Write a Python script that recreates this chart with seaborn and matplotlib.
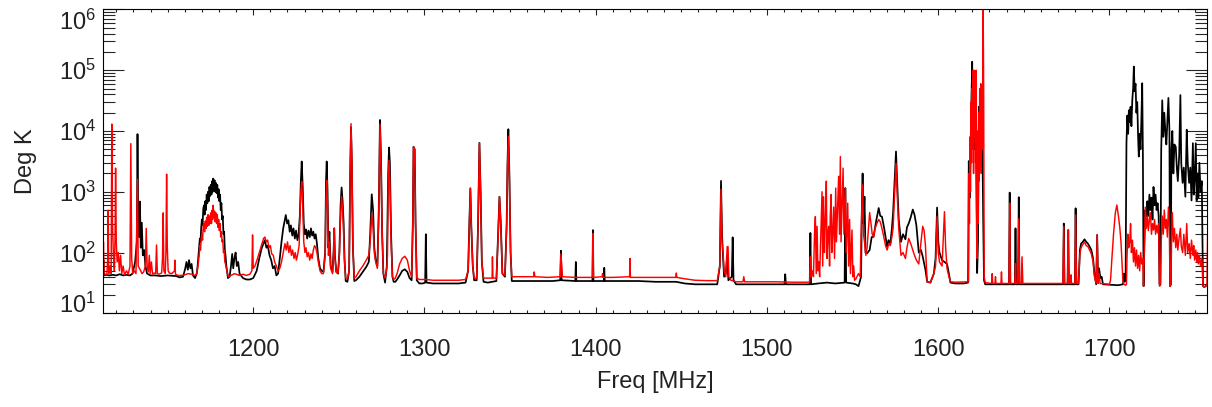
import pandas as pd
import matplotlib
matplotlib.use('Agg')
import matplotlib.pyplot as plt
import matplotlib.ticker as mticker
import seaborn as sns

# ---- black spectrum (MHz / K) ----
black_f_a = [
    1112.2, 1112.5, 1112.9, 1114.0, 1116.0, 1118.0, 1120.0, 1122.0, 1124.0, 1126.0,
    1128.0, 1129.5, 1131.0, 1132.0, 1132.4, 1132.8, 1133.3, 1133.8, 1134.3, 1134.9,
    1135.5, 1136.3, 1137.0, 1138.0, 1140.0, 1143.0, 1146.0, 1150.0, 1155.0, 1157.0,
    1159.0, 1160.3, 1161.0, 1161.8, 1162.5, 1163.3, 1164.0, 1164.8, 1166.0, 1167.0,
    1167.5, 1168.0, 1168.4, 1168.8, 1169.2, 1169.6, 1170.0, 1170.4, 1170.8, 1171.2,
    1171.6, 1172.0, 1172.4, 1172.8, 1173.2, 1173.6, 1174.0, 1174.4, 1174.8, 1175.2,
    1175.6, 1176.0, 1176.3, 1176.6, 1177.0, 1177.4, 1177.8, 1178.2, 1178.6, 1179.0,
    1179.4, 1179.8, 1180.2, 1180.6, 1181.0, 1181.4, 1181.8, 1182.2, 1182.6, 1183.0,
    1183.4, 1183.8, 1184.3, 1185.2, 1186.2, 1187.0, 1187.7, 1188.3, 1189.0, 1189.7,
    1190.4, 1191.2, 1192.0, 1194.0, 1196.0, 1198.0]
black_t_a = [
    45, 75, 42, 43, 42, 43, 42, 44, 42, 43,
    42, 45, 70, 150, 8900, 400, 180, 690, 120, 310,
    90, 110, 60, 45, 42, 42, 41, 42, 41, 39,
    40, 55, 70, 52, 75, 55, 65, 42, 38, 45,
    60, 90, 120, 170, 150, 260, 350, 280, 520, 600,
    420, 700, 500, 900, 650, 1000, 700, 1200, 850, 1300,
    900, 1500, 1000, 1650, 1100, 1550, 1000, 1400, 950, 1300,
    800, 1100, 700, 900, 500, 650, 350, 400, 200, 220,
    110, 90, 60, 38, 40, 60, 95, 55, 80, 100,
    60, 70, 45, 38, 36, 36]

black_f_b = [
    1200.0, 1202.0, 1203.5, 1205.0, 1206.0, 1206.8, 1207.7, 1208.5, 1209.5, 1210.5,
    1211.5, 1212.5, 1213.5, 1214.5, 1215.5, 1216.5, 1217.5, 1218.3, 1219.0, 1219.8,
    1220.5, 1221.3, 1222.0, 1222.8, 1223.5, 1224.3, 1225.0, 1225.8, 1226.5, 1227.2,
    1227.8, 1228.3, 1228.9, 1229.5, 1230.2, 1230.8, 1231.5, 1232.2, 1233.0, 1233.7,
    1234.4, 1235.1, 1235.8, 1236.5, 1237.2, 1238.0, 1239.0, 1240.0, 1241.0, 1242.0,
    1242.5, 1242.9, 1243.4, 1243.9, 1244.5, 1245.2, 1246.3, 1247.0, 1247.3, 1247.7,
    1248.5, 1249.5, 1250.3, 1251.0, 1251.6, 1252.2, 1252.8, 1253.3, 1254.0, 1255.0,
    1256.0, 1256.6, 1257.1, 1257.6, 1258.2, 1259.0, 1260.0, 1262.0, 1264.0, 1266.0,
    1267.5, 1268.3, 1269.2, 1270.0, 1270.7, 1271.5, 1272.5, 1273.3, 1274.0, 1274.6,
    1275.3, 1276.0, 1277.0, 1278.0, 1278.8, 1279.3, 1279.8, 1280.5, 1281.3, 1282.0,
    1283.0, 1284.0, 1285.5, 1287.0, 1288.5, 1290.0, 1291.3, 1292.5, 1293.2, 1293.6,
    1294.3, 1294.8, 1295.5, 1297.0, 1299.0]
black_t_b = [
    38, 50, 80, 120, 140, 160, 120, 130, 90, 75,
    55, 60, 42, 45, 80, 150, 250, 330, 415, 300,
    340, 220, 280, 190, 250, 170, 230, 160, 200, 400,
    1500, 3150, 1200, 300, 200, 240, 170, 230, 180, 250,
    190, 220, 170, 200, 140, 80, 55, 50, 48, 100,
    1500, 3150, 1000, 120, 220, 60, 48, 120, 250, 90,
    48, 45, 100, 600, 1180, 700, 300, 80, 34, 33,
    50, 2000, 11500, 3000, 120, 34, 35, 40, 48, 58,
    70, 200, 910, 500, 120, 75, 60, 500, 15200, 4000,
    200, 45, 32, 60, 2000, 5350, 3000, 200, 40, 33,
    33, 36, 42, 50, 53, 48, 38, 35, 300, 5500,
    5000, 300, 35, 31, 31]

black_f_c = [
    1300.4, 1300.8, 1301.2, 1305.0, 1310.0, 1315.0, 1320.0, 1324.0, 1325.5, 1326.2,
    1326.8, 1327.4, 1328.2, 1329.0, 1330.5, 1331.3, 1332.1, 1332.8, 1333.5, 1334.5,
    1337.0, 1339.7, 1342.0, 1343.0, 1343.8, 1344.6, 1345.5, 1347.0, 1348.0, 1348.5,
    1349.0, 1349.6, 1350.3, 1351.0, 1355.0, 1365.0, 1375.0, 1379.3, 1379.7, 1380.1,
    1388.1, 1388.4, 1388.7, 1398.1, 1398.4, 1398.7, 1404.8, 1405.0, 1405.3, 1415.0,
    1425.0, 1435.0, 1447.0, 1452.0, 1458.0, 1465.0, 1471.0, 1472.5, 1473.2, 1473.8,
    1474.4, 1475.0, 1476.0, 1476.8, 1477.5, 1479.5, 1480.0, 1480.5, 1482.0, 1490.0,
    1500.0, 1510.3, 1510.7, 1511.1, 1520.0, 1525.0, 1525.4, 1525.8, 1530.0, 1535.0,
    1540.0, 1545.4, 1545.8, 1546.3, 1550.0, 1552.0, 1553.5, 1555.0, 1555.5, 1555.9,
    1556.4, 1557.0, 1557.6, 1558.5, 1560.0, 1561.2, 1562.3, 1563.8, 1565.3, 1566.2,
    1567.2, 1568.5, 1570.2, 1571.0, 1572.1, 1573.0, 1573.7, 1574.6, 1575.4, 1576.2,
    1577.0, 1578.3, 1579.5, 1580.9, 1581.8, 1582.8, 1584.0, 1585.2, 1586.2, 1587.3,
    1588.7, 1590.0, 1591.0, 1592.6, 1593.6, 1595.5, 1597.5, 1598.5, 1599.4, 1600.1,
    1600.8, 1602.3, 1603.7, 1605.2, 1606.3, 1607.2, 1610.0]
black_t_c = [
    32, 200, 32, 31, 31, 31, 31, 32, 50, 300,
    1140, 250, 60, 35, 35, 300, 6400, 1000, 70, 33,
    32, 33, 34, 200, 830, 300, 45, 40, 300, 3000,
    10700, 2000, 100, 34, 34, 34, 34, 35, 107, 35,
    34, 70, 34, 34, 234, 34, 34, 56, 34, 34,
    34, 33, 33, 31, 30, 30, 30, 60, 1510, 200,
    80, 40, 45, 90, 35, 40, 178, 35, 30, 30,
    30, 30, 44, 30, 30, 30, 210, 30, 31, 32,
    31, 32, 1150, 32, 31, 30, 28, 40, 700, 2000,
    300, 830, 100, 97, 110, 180, 182, 330, 540, 400,
    390, 250, 125, 160, 140, 250, 450, 1500, 4600, 1200,
    350, 150, 200, 165, 260, 300, 380, 510, 420, 280,
    100, 110, 86, 52, 33, 32, 45, 80, 550, 150,
    100, 75, 70, 65, 45, 32, 31]

black_f_d = [
    1615.0, 1617.5, 1617.9, 1618.5, 1619.3, 1619.9, 1620.4, 1620.9, 1621.4, 1621.9,
    1622.4, 1622.8, 1623.3, 1623.8, 1624.3, 1624.8, 1625.3, 1625.8, 1626.3, 1626.8,
    1627.5, 1635.0, 1641.4, 1641.8, 1642.2, 1644.8, 1645.2, 1645.6, 1646.7, 1647.1,
    1647.5, 1660.0, 1673.0, 1673.4, 1673.8, 1675.6, 1676.0, 1676.4, 1679.9, 1680.3,
    1680.8, 1682.0, 1682.8, 1683.5, 1684.5, 1685.5, 1686.5, 1687.5, 1688.5, 1689.5,
    1690.5, 1691.3, 1692.3, 1692.9, 1693.4, 1694.0, 1694.8, 1695.5, 1696.3, 1705.0,
    1708.0, 1708.5, 1709.0, 1709.5, 1710.0, 1710.5, 1711.0, 1711.4, 1711.9, 1712.4,
    1712.9, 1713.4, 1713.9, 1714.3, 1714.8, 1715.3, 1715.8, 1716.3, 1716.8, 1717.2,
    1717.7, 1718.2, 1718.7, 1719.2, 1719.6, 1720.0, 1720.5, 1721.0, 1721.6, 1722.2,
    1722.8, 1723.4, 1724.0, 1724.6, 1725.2, 1725.8, 1726.4, 1727.0, 1727.6, 1728.2,
    1728.8, 1729.3, 1729.8, 1730.3, 1730.9, 1731.5, 1732.1, 1732.7, 1733.3, 1733.9,
    1734.5, 1735.1, 1735.4, 1736.0, 1736.2, 1736.8, 1737.4, 1738.0, 1738.8, 1739.4,
    1740.0, 1740.8, 1741.5, 1742.0, 1742.8, 1743.5, 1744.4, 1745.2, 1745.8, 1746.6,
    1747.3, 1748.0, 1748.8, 1749.3, 1749.8, 1750.5, 1751.0, 1751.5, 1752.0, 1752.6,
    1753.3, 1754.0, 1754.7, 1755.5, 1756.3, 1757.2]
black_t_d = [
    31, 32, 3200, 800, 20000, 138000, 10000, 90000, 5000, 40000,
    800, 46, 150, 25000, 8000, 29000, 3000, 9000, 400, 35,
    30, 30, 30, 970, 30, 30, 250, 30, 30, 815,
    30, 30, 30, 300, 30, 30, 235, 30, 30, 535,
    30, 30, 110, 140, 150, 165, 150, 140, 125, 110,
    80, 45, 30, 195, 35, 55, 38, 40, 30, 29,
    30, 45, 33, 40, 6300, 18000, 9000, 22000, 14000, 25000,
    12000, 32000, 50000, 115000, 45000, 60000, 20000, 30000, 8000, 3800,
    9000, 5000, 15000, 61000, 4000, 28, 150, 500, 300, 700,
    400, 900, 500, 800, 350, 1200, 600, 900, 500, 650,
    400, 30, 30, 4900, 32000, 8000, 20000, 10000, 6000, 15000,
    35000, 10000, 28, 30, 4900, 10000, 2000, 6000, 5500, 2500,
    1500, 4000, 39000, 3000, 1400, 2500, 830, 10500, 3000, 1400,
    2500, 720, 6300, 900, 1500, 6300, 720, 2000, 800, 3000,
    1000, 1500, 28, 27, 28, 30]

# ---- red spectrum ----
red_f_a = [
    1112.2, 1112.5, 1112.9, 1114.5, 1115.0, 1115.3, 1115.6, 1116.4, 1117.0, 1117.4,
    1117.8, 1118.3, 1118.9, 1119.3, 1119.6, 1120.0, 1120.5, 1121.2, 1121.8, 1122.5,
    1123.2, 1124.0, 1124.8, 1126.0, 1127.0, 1128.0, 1128.5, 1129.0, 1129.6, 1130.5,
    1131.5, 1132.4, 1132.8, 1133.5, 1134.3, 1135.0, 1136.0, 1137.0, 1137.5, 1138.0,
    1138.7, 1139.3, 1139.8, 1140.5, 1141.2, 1142.0, 1143.0, 1143.5, 1144.0, 1145.0,
    1146.5, 1147.0, 1147.4, 1147.8, 1148.6, 1149.0, 1149.4, 1149.8, 1150.3, 1151.0,
    1152.5, 1154.0, 1154.2, 1154.6, 1156.0, 1158.0, 1160.0, 1162.0, 1164.0, 1166.0,
    1167.0, 1167.5, 1168.0, 1168.4, 1168.8, 1169.2, 1169.6, 1170.0, 1170.4, 1170.8,
    1171.2, 1171.6, 1172.0, 1172.4, 1172.8, 1173.2, 1173.6, 1174.0, 1174.4, 1174.8,
    1175.2, 1175.6, 1176.0, 1176.3, 1176.6, 1177.0, 1177.4, 1177.8, 1178.2, 1178.6,
    1179.0, 1179.4, 1179.8, 1180.2, 1180.6, 1181.0, 1181.4, 1181.8, 1182.2, 1182.6,
    1183.0, 1183.4, 1183.8, 1184.6, 1185.5, 1187.0, 1189.0, 1190.0, 1192.0, 1194.0,
    1196.0, 1198.0]
red_t_a = [
    45, 150, 45, 43, 80, 500, 45, 60, 45, 13000,
    300, 90, 50, 200, 2450, 150, 70, 100, 50, 90,
    45, 60, 43, 50, 44, 60, 6200, 80, 45, 50,
    45, 1600, 60, 55, 50, 45, 48, 60, 250, 60,
    48, 90, 45, 70, 44, 46, 45, 133, 45, 44,
    46, 80, 450, 50, 45, 100, 1950, 120, 50, 46,
    45, 50, 75, 44, 42, 42, 43, 45, 44, 42,
    45, 55, 70, 90, 130, 110, 170, 200, 160, 280,
    300, 220, 330, 250, 380, 270, 420, 280, 400, 300,
    450, 300, 500, 350, 600, 380, 480, 320, 450, 300,
    420, 260, 350, 230, 300, 180, 220, 150, 160, 100,
    110, 70, 65, 50, 40, 42, 45, 44, 42, 44,
    42, 44]

red_f_b = [
    1199.2, 1199.6, 1200.0, 1201.0, 1202.5, 1204.0, 1205.2, 1206.0, 1206.8, 1207.6,
    1208.4, 1209.2, 1210.0, 1210.8, 1211.7, 1212.5, 1213.5, 1214.5, 1215.5, 1216.5,
    1217.5, 1218.5, 1219.3, 1220.0, 1220.8, 1221.5, 1222.3, 1223.0, 1223.8, 1224.5,
    1225.2, 1226.0, 1226.8, 1227.3, 1227.8, 1228.3, 1228.9, 1229.5, 1230.2, 1230.8,
    1231.5, 1232.2, 1233.0, 1233.7, 1234.4, 1235.1, 1235.8, 1236.5, 1237.2, 1238.0,
    1239.0, 1240.0, 1241.0, 1242.0, 1242.5, 1242.9, 1243.4, 1243.9, 1244.5, 1245.2,
    1246.3, 1247.0, 1247.3, 1247.7, 1248.5, 1249.5, 1250.3, 1251.0, 1251.6, 1252.2,
    1252.8, 1253.3, 1254.0, 1255.0, 1256.0, 1256.6, 1257.1, 1257.6, 1258.2, 1259.0,
    1260.0, 1262.0, 1264.0, 1266.0, 1267.5, 1268.3, 1269.2, 1270.0, 1270.7, 1271.5,
    1272.5, 1273.3, 1274.0, 1274.6, 1275.3, 1276.0, 1277.0, 1278.0, 1278.4, 1278.8,
    1279.3, 1279.8, 1280.5, 1281.3, 1282.0, 1283.0, 1284.0, 1285.5, 1287.0, 1288.5,
    1290.0, 1291.3, 1292.5, 1293.2, 1293.6, 1294.3, 1294.8, 1295.5, 1297.0, 1299.0]
red_t_b = [
    50, 195, 55, 60, 80, 110, 140, 170, 180, 150,
    160, 120, 130, 95, 90, 70, 60, 50, 55, 70,
    100, 140, 110, 150, 100, 130, 90, 110, 80, 100,
    75, 95, 130, 400, 1000, 1480, 600, 150, 100, 120,
    85, 100, 75, 95, 80, 110, 130, 120, 100, 70,
    50, 45, 45, 90, 800, 1550, 600, 90, 150, 55,
    45, 100, 250, 80, 48, 46, 90, 400, 830, 500,
    200, 70, 38, 37, 50, 2000, 13200, 3500, 120, 38,
    40, 50, 60, 75, 90, 150, 445, 250, 100, 70,
    55, 400, 13000, 3000, 200, 45, 38, 55, 90, 1200,
    3300, 1500, 150, 40, 36, 38, 45, 65, 80, 87,
    75, 50, 40, 300, 5500, 5000, 300, 38, 36, 36]

red_f_c = [
    1301.0, 1305.0, 1320.0, 1324.0, 1325.5, 1326.2, 1326.8, 1327.4, 1328.2, 1329.0,
    1330.5, 1331.3, 1332.1, 1332.8, 1333.5, 1334.5, 1337.0, 1339.5, 1339.7, 1340.0,
    1342.0, 1343.0, 1343.8, 1344.6, 1345.5, 1347.0, 1348.0, 1348.5, 1349.0, 1349.6,
    1350.3, 1351.0, 1356.0, 1363.8, 1364.1, 1364.5, 1372.0, 1379.3, 1379.7, 1380.2,
    1380.6, 1388.0, 1398.1, 1398.4, 1398.7, 1403.8, 1404.0, 1404.3, 1410.0, 1419.8,
    1420.0, 1420.3, 1430.0, 1440.0, 1446.8, 1447.1, 1447.4, 1452.0, 1458.0, 1465.0,
    1471.0, 1472.5, 1473.2, 1473.8, 1474.4, 1475.0, 1476.0, 1476.8, 1477.3, 1477.8,
    1479.0, 1482.0, 1486.0, 1486.5, 1487.0, 1495.0, 1505.0, 1515.0, 1524.5, 1525.0,
    1525.4, 1525.9, 1526.5, 1527.2, 1527.8, 1528.3, 1528.8, 1529.3, 1529.8, 1530.3,
    1530.8, 1531.4, 1532.2, 1532.6, 1533.1, 1533.6, 1534.1, 1534.7, 1535.1, 1535.6,
    1536.1, 1536.6, 1537.0, 1537.5, 1537.9, 1538.4, 1539.0, 1539.5, 1540.2, 1540.6,
    1541.1, 1541.9, 1542.4, 1542.9, 1543.3, 1543.8, 1544.5, 1545.0, 1545.8, 1546.3,
    1546.8, 1547.2, 1547.7, 1548.3, 1548.8, 1549.7, 1550.2, 1550.7, 1551.2, 1552.0,
    1553.5, 1554.5, 1555.2, 1555.9, 1556.4, 1557.0, 1557.8, 1558.5, 1559.3, 1560.0,
    1560.8, 1561.5, 1562.3, 1563.2, 1564.2, 1565.3, 1566.2, 1567.2, 1568.3, 1569.3,
    1570.2, 1571.2, 1572.1, 1573.0, 1573.7, 1574.6, 1575.4, 1576.2, 1577.0, 1578.3,
    1579.5, 1580.9, 1581.8, 1582.8, 1584.0, 1585.2, 1586.2, 1587.3, 1588.7, 1590.0,
    1591.0, 1591.8, 1592.6, 1593.6, 1595.5, 1597.5, 1598.5, 1599.4, 1600.1, 1600.8,
    1602.3, 1603.7, 1604.4, 1605.2, 1606.3, 1607.2, 1610.0]
red_t_c = [
    36, 35, 35, 36, 50, 280, 1140, 250, 60, 38,
    38, 300, 6400, 900, 70, 38, 38, 38, 85, 38,
    38, 180, 830, 280, 45, 42, 250, 2500, 8100, 1600,
    100, 40, 40, 40, 48, 40, 39, 40, 95, 60,
    40, 39, 39, 205, 39, 40, 45, 39, 39, 40,
    80, 39, 39, 39, 39, 46, 39, 37, 35, 34.5,
    34.5, 60, 1100, 150, 103, 50, 40, 125, 125, 40,
    35, 33, 33, 40, 33, 33, 33, 32.5, 32.5, 33,
    85, 40, 50, 40, 200, 390, 45, 270, 50, 70,
    40, 150, 1000, 60, 830, 100, 300, 1500, 80, 200,
    270, 60, 400, 900, 100, 200, 560, 80, 1150, 150,
    400, 1800, 200, 3800, 150, 500, 2450, 200, 1150, 100,
    300, 650, 60, 350, 45, 235, 40, 60, 35, 37,
    45, 40, 300, 1300, 200, 150, 90, 120, 250, 455,
    300, 200, 180, 250, 300, 350, 320, 250, 180, 130,
    110, 140, 130, 180, 250, 900, 2950, 800, 250, 90,
    100, 80, 120, 170, 140, 110, 90, 75, 65, 150,
    270, 230, 130, 33, 32, 45, 60, 390, 100, 70,
    60, 470, 120, 55, 40, 33, 32.5]

red_f_d = [
    1617.5, 1617.8, 1618.0, 1618.3, 1618.6, 1618.9, 1619.2, 1619.5, 1619.8, 1620.1,
    1620.4, 1620.7, 1621.0, 1621.3, 1621.6, 1621.9, 1622.2, 1622.5, 1622.8, 1623.1,
    1623.4, 1623.7, 1624.0, 1624.3, 1624.6, 1624.9, 1625.2, 1625.5, 1625.8, 1626.1,
    1626.3, 1626.6, 1626.9, 1627.5, 1631.3, 1631.6, 1631.9, 1633.2, 1633.5, 1633.8,
    1636.7, 1637.0, 1637.3, 1641.4, 1641.8, 1642.2, 1644.8, 1645.2, 1645.6, 1646.7,
    1647.1, 1647.6, 1648.6, 1649.0, 1649.5, 1660.0, 1672.9, 1673.4, 1673.8, 1675.6,
    1676.0, 1676.4, 1677.4, 1677.6, 1677.9, 1679.9, 1680.3, 1680.8, 1682.0, 1682.8,
    1683.5, 1684.5, 1685.5, 1686.5, 1687.5, 1688.5, 1689.5, 1690.5, 1691.3, 1692.3,
    1692.9, 1693.4, 1694.0, 1694.6, 1700.0, 1700.7, 1701.5, 1702.5, 1703.5, 1704.4,
    1705.3, 1706.1, 1706.8, 1707.3, 1707.9, 1708.5, 1709.5, 1710.0, 1710.3, 1710.8,
    1711.3, 1711.9, 1712.4, 1712.9, 1713.5, 1714.1, 1714.7, 1715.3, 1715.9, 1716.5,
    1717.1, 1717.7, 1718.3, 1718.9, 1719.5, 1720.0, 1720.5, 1721.0, 1721.6, 1722.2,
    1722.8, 1723.4, 1724.0, 1724.6, 1725.2, 1725.8, 1726.4, 1727.0, 1727.6, 1728.2,
    1728.8, 1729.3, 1729.8, 1730.3, 1730.9, 1731.5, 1732.1, 1732.7, 1733.3, 1733.9,
    1734.5, 1735.1, 1735.4, 1736.0, 1736.4, 1736.8, 1737.4, 1738.0, 1738.8, 1739.4,
    1740.0, 1740.8, 1741.5, 1742.0, 1742.8, 1743.5, 1744.4, 1745.2, 1745.8, 1746.6,
    1747.3, 1748.0, 1748.8, 1749.3, 1749.8, 1750.5, 1751.0, 1751.5, 1752.0, 1752.6,
    1753.3, 1754.0, 1754.7, 1755.5, 1756.3, 1757.0, 1757.4]
red_t_d = [
    33, 33, 2000, 300, 8000, 1000, 30000, 3000, 50000, 5000,
    100000, 2000, 100000, 8000, 90000, 3000, 100000, 500, 80, 10000,
    300, 20000, 1500, 50000, 3000, 60000, 2000, 30000, 5000, 100000,
    1000000, 50000, 40, 32, 31, 45, 31, 31, 40, 31,
    31, 48, 31, 31, 650, 31, 31, 66, 31, 31,
    360, 31, 31, 85, 31, 31, 31, 270, 31, 31,
    235, 31, 31, 43, 31, 31, 415, 31, 31, 95,
    120, 135, 150, 130, 125, 110, 95, 70, 40, 31,
    195, 31, 45, 31, 30, 35, 80, 210, 450, 605,
    400, 260, 150, 76, 35, 30, 29, 30, 80, 200,
    120, 150, 300, 100, 160, 70, 120, 60, 110, 55,
    90, 50, 100, 65, 80, 28, 150, 560, 250, 400,
    230, 350, 450, 200, 300, 235, 350, 200, 280, 210,
    300, 28, 29, 150, 400, 200, 500, 250, 350, 180,
    560, 250, 28, 30, 200, 450, 150, 250, 120, 200,
    110, 180, 250, 130, 100, 200, 90, 300, 100, 140,
    80, 160, 90, 130, 75, 110, 70, 100, 65, 90,
    60, 80, 28, 27, 28, 30, 200]

x_ticks = [1200, 1300, 1400, 1500, 1600, 1700]
y_ticks = [1e1, 1e2, 1e3, 1e4, 1e5, 1e6]


def spectrum(f_parts, t_parts):
    for i, (f, t) in enumerate(zip(f_parts, t_parts)):
        if len(f) != len(t):
            raise ValueError('part %d: %d freqs, %d temps' % (i, len(f), len(t)))
    return pd.DataFrame({'freq': sum(f_parts, []), 'temp': sum(t_parts, [])})


black = spectrum([black_f_a, black_f_b, black_f_c, black_f_d],
                 [black_t_a, black_t_b, black_t_c, black_t_d])
red = spectrum([red_f_a, red_f_b, red_f_c, red_f_d],
               [red_t_a, red_t_b, red_t_c, red_t_d])

sns.set_style('ticks')
plt.rcParams['font.family'] = ['Liberation Sans', 'DejaVu Sans']
plt.rcParams['mathtext.fontset'] = 'custom'
plt.rcParams['mathtext.rm'] = 'Liberation Sans'
plt.rcParams['mathtext.it'] = 'Liberation Sans:italic'
plt.rcParams['mathtext.bf'] = 'Liberation Sans:bold'
txt = '#222222'

fig = plt.figure(figsize=(12.12, 4.07), dpi=100)
ax = fig.add_axes([0.0852, 0.2302, 0.9109, 0.7465])

sns.lineplot(data=black, x='freq', y='temp', color='black', linewidth=1.25,
             estimator=None, ax=ax)
sns.lineplot(data=red, x='freq', y='temp', color='red', linewidth=1.05,
             estimator=None, ax=ax)

ax.set_yscale('log')
ax.set_xlim(1112.4, 1757.2)
ax.set_ylim(1e1, 1e6)

ax.set_xticks(x_ticks)
ax.xaxis.set_minor_locator(mticker.MultipleLocator(10))
ax.set_yticks(y_ticks)
ax.yaxis.set_minor_locator(mticker.LogLocator(base=10, subs=range(2, 10), numticks=20))
ax.yaxis.set_minor_formatter(mticker.NullFormatter())

ax.tick_params(axis='x', which='major', direction='in', length=4, width=0.8,
               top=True, pad=18.5, labelsize=17, labelcolor=txt)
ax.tick_params(axis='x', which='minor', direction='in', length=2.2, width=0.8, top=True)
ax.tick_params(axis='y', which='major', direction='in', length=15, width=0.8,
               right=True, pad=5, labelsize=17, labelcolor=txt)
ax.tick_params(axis='y', which='minor', direction='in', length=8.5, width=0.8, right=True)

ylabels = ax.get_yticklabels()
ylabels[0].set_va('baseline')
ylabels[-1].set_va('top')

for s in ax.spines.values():
    s.set_linewidth(0.8)
    s.set_color('black')

ax.set_xlabel('Freq [MHz]', fontsize=17, color=txt, labelpad=7)
ax.set_ylabel('Deg K', fontsize=17, color=txt, labelpad=16)

fig.savefig('out.png', dpi=100)
